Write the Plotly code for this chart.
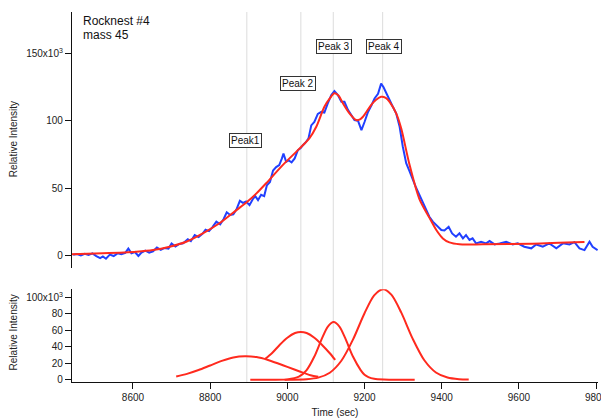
import plotly.graph_objects as go

# ---------------- data (intensity in units of 10^3) ----------------
raw_time = [8445, 8455, 8465, 8475, 8485, 8495, 8505, 8515, 8522, 8530, 8540, 8550, 8560, 8570,
            8580, 8588, 8596, 8605, 8614, 8622, 8632, 8642, 8652, 8662, 8672, 8682, 8692, 8700,
            8710, 8720, 8730, 8742, 8750, 8760, 8770, 8780, 8788, 8797, 8806, 8816, 8826, 8835,
            8843, 8852, 8860, 8868, 8877, 8885, 8893, 8902, 8910, 8917, 8924, 8932, 8940, 8947,
            8955, 8963, 8971, 8979, 8986, 8990, 8997, 9004, 9011, 9019, 9027, 9034, 9041, 9048,
            9055, 9062, 9070, 9079, 9088, 9096, 9105, 9114, 9122, 9131, 9140, 9148, 9157, 9166,
            9174, 9183, 9192, 9200, 9209, 9218, 9226, 9235, 9243, 9249, 9256, 9265, 9273, 9282,
            9291, 9299, 9308, 9316, 9325, 9334, 9342, 9351, 9360, 9368, 9377, 9386, 9399, 9407,
            9418, 9427, 9437, 9446, 9455, 9463, 9472, 9480, 9489, 9502, 9515, 9524, 9537, 9550,
            9567, 9584, 9597, 9614, 9632, 9645, 9662, 9679, 9697, 9714, 9731, 9744, 9757, 9770,
            9783, 9791, 9804]
raw_value = [0.5, 1.0, 0.0, 1.2, 0.3, 1.5, -0.5, -2.0, -0.8, -2.5, 0.5, -0.5, 1.5, 0.8,
             1.8, 5.0, 1.5, 2.5, -0.5, 2.0, 3.5, 2.0, 3.0, 5.8, 4.0, 5.5, 5.0, 8.8,
             6.5, 8.5, 9.0, 12.0, 10.5, 15.0, 13.5, 16.0, 19.0, 18.0, 21.0, 25.0, 23.0, 27.0,
             32.0, 30.0, 30.5, 34.0, 40.5, 39.0, 40.0, 37.3, 41.5, 44.0, 41.0, 45.0, 44.0, 52.0,
             54.5, 63.0, 65.5, 67.0, 72.0, 75.5, 69.5, 70.5, 69.0, 72.0, 78.0, 79.5, 82.0, 84.0,
             87.0, 96.5, 99.0, 105.0, 106.5, 106.0, 113.0, 119.0, 122.0, 119.0, 114.0, 114.0, 108.0, 104.0,
             100.5, 100.0, 93.0, 99.0, 106.5, 111.5, 116.5, 120.0, 127.5, 125.0, 120.5, 115.5, 110.5, 105.5,
             95.5, 81.0, 68.5, 63.0, 56.0, 50.0, 45.0, 39.0, 34.0, 28.7, 25.0, 22.5, 18.8, 18.5,
             21.2, 16.3, 13.8, 16.3, 12.6, 15.0, 11.4, 12.6, 8.9, 10.1, 8.9, 10.6, 8.1, 8.9,
             10.1, 8.1, 8.9, 6.4, 5.2, 8.1, 6.4, 8.9, 5.2, 8.9, 8.1, 9.8, 5.2, 3.9,
             10.1, 6.4, 3.9]

fit_time = [8440, 8522, 8609, 8652, 8695, 8738, 8781, 8824, 8868, 8896, 8920, 8945, 8988,
            9032, 9057, 9075, 9096, 9110, 9122, 9133, 9144, 9161, 9178, 9187, 9196, 9217,
            9230, 9243, 9255, 9265, 9282, 9295, 9316, 9342, 9368, 9386, 9403, 9420, 9446,
            9506, 9635, 9770]
fit_value = [0.7, 1.5, 2.7, 3.9, 6.4, 10.1, 16.3, 23.8, 33.6, 39.8, 46.0, 53.5, 67.0,
             79.4, 86.9, 95.5, 110.3, 116.5, 120.3, 118.5, 112.9, 105.4, 100.5, 100.8, 102.9, 111.6,
             115.5, 117.8, 117.0, 114.0, 105.4, 94.3, 68.0, 42.0, 28.0, 18.8, 12.6, 9.6, 8.2,
             8.2, 8.7, 9.9]

peak1_time = [8712, 8740, 8770, 8800, 8830, 8860, 8890, 8920, 8950, 8980, 9000, 9032, 9060, 9080]
peak1_value = [4.0, 7.1, 11.7, 17.3, 22.8, 27.0, 28.5, 27.5, 24.0, 19.0, 15.5, 10.0, 5.5, 3.5]

peak2_time = [8942, 8960, 8980, 9000, 9020, 9035, 9050, 9070, 9090, 9110, 9124]
peak2_value = [25.0, 32.1, 42.2, 51.0, 56.7, 58.0, 56.7, 51.0, 42.2, 32.1, 24.0]

peak3_time = [8904, 8950, 9000, 9030, 9050, 9070, 9090, 9105, 9120, 9135, 9150, 9170, 9190,
              9200, 9210, 9225, 9250, 9290, 9330]
peak3_value = [0.0, 0.0, 0.4, 3.6, 11.7, 28.1, 50.4, 64.5, 70.0, 64.5, 50.4, 28.1, 11.7,
               6.0, 3.2, 1.2, 0.3, 0.0, 0.0]

peak4_time = [8993, 9050, 9080, 9110, 9140, 9170, 9200, 9225, 9248, 9270, 9295, 9325, 9355,
              9385, 9415, 9445, 9470]
peak4_value = [0.0, 0.6, 2.5, 8.5, 23.0, 48.6, 80.7, 102.4, 110.0, 103.0, 81.7, 49.6, 23.6,
               8.8, 2.6, 0.6, 0.2]

marker_time = [8895, 9035, 9119, 9247]
label_text = ["Peak1", "Peak 2", "Peak 3", "Peak 4"]
label_time = [8892, 9028, 9121, 9250]
label_value = [85.2, 127.6, 155.4, 155.4]

top_tickvals = [0, 50, 100, 150]
top_ticktext = ["0", "50", "100", "150x10<sup>3</sup>"]
bot_tickvals = [0, 20, 40, 60, 80, 100]
bot_ticktext = ["0", "20", "40", "60", "80", "100x10<sup>3</sup>"]
x_tickvals = [8600, 8800, 9000, 9200, 9400, 9600, 9800]
x_ticktext = ["8600", "8800", "9000", "9200", "9400", "9600", "9800"]

# ---------------- figure ----------------
BLUE = "#2140ff"
RED = "#ff2a1e"
FONT = "Liberation Sans, Arial, Helvetica, sans-serif"

fig = go.Figure()
fig.add_trace(go.Scatter(x=raw_time, y=raw_value, mode="lines",
                         line=dict(color=BLUE, width=2), xaxis="x", yaxis="y"))
fig.add_trace(go.Scatter(x=fit_time, y=fit_value, mode="lines",
                         line=dict(color=RED, width=2, shape="spline", smoothing=0.8),
                         xaxis="x", yaxis="y"))
for pt, pv in [(peak1_time, peak1_value), (peak2_time, peak2_value),
               (peak3_time, peak3_value), (peak4_time, peak4_value)]:
    fig.add_trace(go.Scatter(x=pt, y=pv, mode="lines",
                             line=dict(color=RED, width=2, shape="spline", smoothing=0.8),
                             xaxis="x2", yaxis="y2"))

shapes = [dict(type="line", xref="x2", yref="paper", x0=t, x1=t, y0=0, y1=1,
               line=dict(color="#dcdcdc", width=1), layer="below") for t in marker_time]

annotations = []
for txt, t, v in zip(label_text, label_time, label_value):
    annotations.append(dict(x=t, y=v, xref="x", yref="y", text=txt, showarrow=False,
                            font=dict(size=10, color="#111", family=FONT),
                            bgcolor="white", bordercolor="#333", borderwidth=1, borderpad=1))

# text block at top-left
annotations.append(dict(x=0.018, y=(382 - 21.5) / 370, xref="paper", yref="paper", text="Rocknest #4",
                        showarrow=False, xanchor="left", yanchor="middle",
                        font=dict(size=12, color="#111", family=FONT)))
annotations.append(dict(x=0.018, y=(382 - 34.5) / 370, xref="paper", yref="paper", text="mass 45",
                        showarrow=False, xanchor="left", yanchor="middle",
                        font=dict(size=12, color="#111", family=FONT)))
# y titles
annotations.append(dict(x=(14 - 72.3) / 525.4, y=(382 - 139.5) / 370, xref="paper", yref="paper",
                        text="Relative Intensity", textangle=-90, showarrow=False,
                        xanchor="center", yanchor="middle",
                        font=dict(size=10, color="#222", family=FONT)))
annotations.append(dict(x=(14 - 72.3) / 525.4, y=(382 - 332.8) / 370, xref="paper", yref="paper",
                        text="Relative Intensity", textangle=-90, showarrow=False,
                        xanchor="center", yanchor="middle",
                        font=dict(size=10, color="#222", family=FONT)))

axis_common = dict(showgrid=False, zeroline=False, ticks="outside", ticklen=6, tickwidth=1,
                   tickcolor="#111", linecolor="#111", linewidth=1.2, automargin=False,
                   tickfont=dict(size=10, color="#222", family=FONT))

fig.update_layout(
    width=601, height=418,
    margin=dict(l=72, r=3, t=12, b=36),
    paper_bgcolor="white", plot_bgcolor="white",
    showlegend=False,
    font=dict(family=FONT, size=10, color="#222"),
    xaxis=dict(domain=[0, 1], anchor="y", range=[8442, 9805], matches="x2", automargin=False,
               showline=False, showticklabels=False, ticks="", showgrid=False, zeroline=False),
    yaxis=dict(domain=[0.307, 1], anchor="x", range=[-9.7, 180.7], showline=True,
               tickvals=top_tickvals, ticktext=top_ticktext, **axis_common),
    xaxis2=dict(domain=[0, 1], anchor="y2", range=[8442, 9805], showline=True,
                tickvals=x_tickvals, ticktext=x_ticktext, ticklabeloverflow="allow",
                title=dict(text="Time (sec)", font=dict(size=10, color="#222", family=FONT), standoff=10),
                **axis_common),
    yaxis2=dict(domain=[0, 0.251], anchor="x2", range=[-2.8, 110], showline=True,
                tickvals=bot_tickvals, ticktext=bot_ticktext, **axis_common),
    shapes=shapes,
    annotations=annotations,
)

fig.write_html("out.html", config={"displayModeBar": False},
               post_script="document.body.style.margin='0';document.body.style.overflow='hidden';")
